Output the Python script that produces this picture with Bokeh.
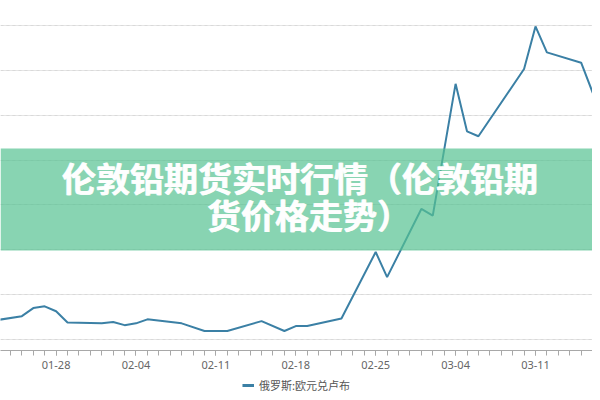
import datetime as dt
from bokeh.plotting import figure
from bokeh.layouts import column
from bokeh.models import (Range1d, FixedTicker, DatetimeTickFormatter, Grid,
                          BoxAnnotation, Label, Legend, LegendItem, ColumnDataSource)
from bokeh.embed import file_html
from bokeh.resources import INLINE

# ---------------- data ----------------
dates = ["2022-01-22", "2022-01-25", "2022-01-26", "2022-01-27", "2022-01-28",
         "2022-01-29", "2022-02-01", "2022-02-02", "2022-02-03", "2022-02-04",
         "2022-02-05", "2022-02-08", "2022-02-10", "2022-02-12", "2022-02-15",
         "2022-02-17", "2022-02-18", "2022-02-19", "2022-02-22", "2022-02-25",
         "2022-02-26", "2022-03-01", "2022-03-02", "2022-03-04", "2022-03-05",
         "2022-03-06", "2022-03-10", "2022-03-11", "2022-03-12", "2022-03-15",
         "2022-03-16", "2022-03-17"]
values = [84.0, 85.2, 87.0, 87.4, 86.3,
          83.8, 83.6, 83.9, 83.2, 83.6,
          84.5, 83.6, 81.9, 81.9, 84.1,
          81.9, 83.0, 83.0, 84.7, 99.5,
          93.9, 109.1, 107.6, 137.0, 126.4,
          125.3, 140.3, 149.8, 144.0, 141.7,
          135.1, 129.5]
tick_labels = ["01-28", "02-04", "02-11", "02-18", "02-25", "03-04", "03-11", "03-18"]
tick_year = 2022
grid_values = [80, 90, 100, 110, 120, 130, 140, 150]
series_name = "俄罗斯:欧元兑卢布"
title_lines = ["伦敦铅期货实时行情（伦敦铅期", "货价格走势）"]

LINE_COLOR = "#3b80a5"

# ---------------- build ----------------
def to_dt(s):
    return dt.datetime.strptime(s, "%Y-%m-%d")

def to_ms(d):
    return (d - dt.datetime(1970, 1, 1)).total_seconds() * 1000.0

xs = [to_dt(d) for d in dates]
src = ColumnDataSource(data=dict(x=xs, y=values))

anchor = dt.datetime(tick_year, 1, 28)
x_start = anchor - dt.timedelta(days=4.871)
x_end = anchor + dt.timedelta(days=46.995)

major = [to_ms(dt.datetime.strptime(f"{tick_year}-{t}", "%Y-%m-%d")) for t in tick_labels]
minor = []
d = dt.datetime(x_start.year, x_start.month, x_start.day)
while d <= x_end + dt.timedelta(days=1):
    minor.append(to_ms(d))
    d += dt.timedelta(days=1)

p = figure(width=592, height=378, output_backend="svg", toolbar_location=None,
           x_axis_type="datetime", y_axis_location=None,
           x_range=Range1d(x_start, x_end), y_range=Range1d(77.55, 155.57),
           min_border_left=0, min_border_right=0, min_border_top=0, min_border_bottom=28)
p.outline_line_color = None
p.background_fill_color = "white"
p.border_fill_color = "white"
p.xgrid.visible = False

ygrid = Grid(dimension=1, ticker=FixedTicker(ticks=grid_values),
             grid_line_color="#d9d9d9", grid_line_dash="3 3", grid_line_width=1)
p.add_layout(ygrid)

xa = p.xaxis[0]
xa.ticker = FixedTicker(ticks=major, minor_ticks=minor)
xa.formatter = DatetimeTickFormatter(days="%m-%d", months="%m-%d", hours="%m-%d",
                                     years="%m-%d", milliseconds="%m-%d",
                                     seconds="%m-%d", minsec="%m-%d", minutes="%m-%d",
                                     hourmin="%m-%d")
xa.axis_line_color = "#a8a8a8"
xa.major_tick_line_color = "#a8a8a8"
xa.minor_tick_line_color = "#a8a8a8"
xa.major_tick_in = 0
xa.major_tick_out = 5
xa.minor_tick_in = 0
xa.minor_tick_out = 5
xa.major_label_standoff = 5
xa.major_label_text_font = "Noto Sans"
xa.major_label_text_font_size = "11px"
xa.major_label_text_color = "#666666"

r = p.line("x", "y", source=src, line_color=LINE_COLOR, line_width=2)

band = BoxAnnotation(bottom=100, top=202, bottom_units="screen", top_units="screen",
                     fill_color="#56c292", fill_alpha=0.7, line_color=None)
p.add_layout(band)

# title drawn twice with a sub-pixel shift to get a heavier stroke
title_pos = [(299.5, 173), (308.5, 136)]
for (tx, ty), txt in zip(title_pos, title_lines):
    for dx in (-0.5, 0.5):
        p.add_layout(Label(x=tx + dx, y=ty, x_units="screen", y_units="screen",
                           text=txt, text_align="center", text_baseline="middle",
                           text_font="Noto Sans CJK SC", text_font_style="bold",
                           text_font_size="34px", text_color="white", text_alpha=0.95))

# ---------------- legend strip ----------------
lf = figure(width=592, height=14, output_backend="svg", toolbar_location=None,
            x_axis_location=None, y_axis_location=None,
            x_range=Range1d(0, 1), y_range=Range1d(0, 1),
            min_border_left=0, min_border_right=0, min_border_top=0, min_border_bottom=0)
lf.outline_line_color = None
lf.xgrid.visible = False
lf.ygrid.visible = False
lf.background_fill_alpha = 0
lf.border_fill_alpha = 0
# swatch renderer kept outside the strip's visible range: it only feeds the legend glyph
lr = lf.line(x=[5, 6], y=[5, 5], line_color=LINE_COLOR, line_width=3)
legend = Legend(items=[LegendItem(label=series_name, renderers=[lr])],
                orientation="horizontal", location="center",
                glyph_width=12, glyph_height=12, label_height=12,
                label_standoff=5, padding=1, margin=0, spacing=0,
                label_text_font="Noto Sans CJK SC", label_text_font_size="11px",
                label_text_color="#555555",
                border_line_alpha=0, background_fill_alpha=0)
lf.add_layout(legend)

open("out.html", "w").write(file_html(column(p, lf, spacing=0), INLINE))
